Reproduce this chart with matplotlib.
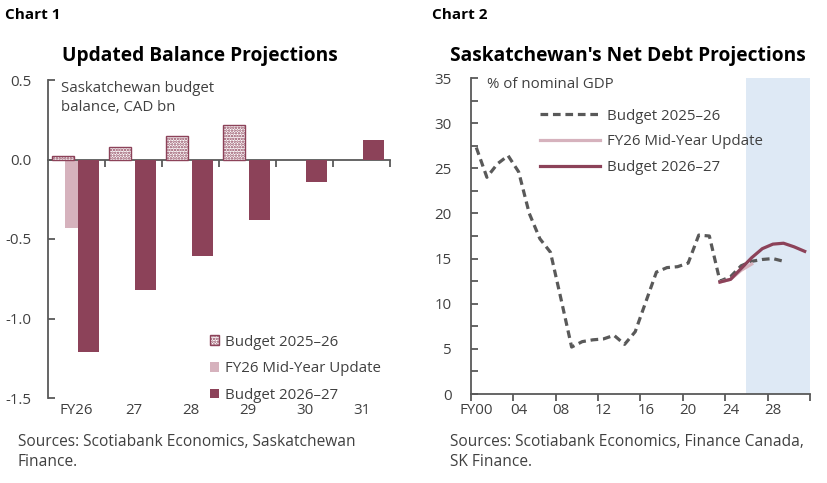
import matplotlib as mpl
mpl.use('Agg')
import matplotlib.pyplot as plt
import matplotlib.transforms as mtransforms
from matplotlib.lines import Line2D
from matplotlib.patches import Patch
import numpy as np

plt.rcParams['font.family'] = ['Open Sans', 'DejaVu Sans']
plt.rcParams['hatch.linewidth'] = 1.2

MAROON = '#8C4259'
PINK = '#D6B2BD'
GREY = '#595959'
SHADE = '#DEE9F5'
AXIS = '#595959'
TXT = '#404040'

# ---- Chart 1 data: budget balance, CAD bn
years1 = ['FY26', '27', '28', '29', '30', '31']
budget_2526 = [0.02, 0.08, 0.15, 0.22, np.nan, np.nan]
midyear_26 = [-0.43, np.nan, np.nan, np.nan, np.nan, np.nan]
budget_2627 = [-1.21, -0.82, -0.61, -0.38, -0.14, 0.12]

# ---- Chart 2 data: net debt, % of nominal GDP, FY00..FY31
years2 = list(range(2000, 2032))
debt_2526 = [27.3, 24.0, 25.5, 26.4, 24.6, 20.0, 17.2, 15.7, 10.5, 5.2,
             5.8, 6.0, 6.1, 6.5, 5.5, 6.9, 10.2, 13.5, 14.0, 14.1,
             14.5, 17.6, 17.5, 12.5, 13.0, 14.2, 14.7, 14.9, 15.0, 14.7,
             np.nan, np.nan]
debt_mid = [np.nan] * 23 + [12.4, 12.7, 13.7, 14.4] + [np.nan] * 5
debt_2627 = [np.nan] * 23 + [12.4, 12.7, 13.9, 15.1, 16.1, 16.6, 16.7, 16.3, 15.8]
xlabels2 = ['FY00', '04', '08', '12', '16', '20', '24', '28']
legend_labels = ['Budget 2025–26', 'FY26 Mid-Year Update', 'Budget 2026–27']

W, H = 828, 483
FS = 10.8
fig = plt.figure(figsize=(W / 100, H / 100), dpi=100)


def fx(px):
    return px / W


def fy(py):
    return 1 - py / H


# =================== Chart 1 ===================
ax1 = fig.add_axes([fx(48), fy(398), fx(390 - 48), (398 - 80) / H])
x = np.arange(len(years1))
ax1.bar(x, midyear_26, width=0.42, color=PINK, zorder=2)
ax1.bar(x - 0.235, budget_2526, width=0.38, facecolor='white',
        edgecolor=MAROON, hatch='......', linewidth=1.0, zorder=3)
ax1.bar(x + 0.205, budget_2627, width=0.37, color=MAROON, zorder=3)

ax1.set_xlim(-0.5, 5.5)
ax1.set_ylim(-1.5, 0.5)
ax1.set_yticks([0.5, 0.0, -0.5, -1.0, -1.5])
ax1.set_yticklabels(['0.5', '0.0', '-0.5', '-1.0', '-1.5'])
ax1.spines['bottom'].set_position(('data', 0))
for s in ['top', 'right']:
    ax1.spines[s].set_visible(False)
for s in ['left', 'bottom']:
    ax1.spines[s].set_color(AXIS)
    ax1.spines[s].set_linewidth(1.3)
ax1.set_xticks(np.arange(0.5, 6, 1))
ax1.set_xticklabels([])
ax1.tick_params(axis='x', direction='out', length=5, width=1.3, color=AXIS)
ax1.tick_params(axis='y', direction='in', length=5, width=1.3, color=AXIS,
                labelsize=FS, pad=12, labelcolor=TXT)
tr1 = mtransforms.blended_transform_factory(ax1.transData, fig.transFigure)
for xi, lab in zip(x, years1):
    ax1.text(xi, fy(411), lab, transform=tr1, ha='center', va='center',
             fontsize=FS, color=TXT)

ax1.text(fx(61), fy(98), 'Saskatchewan budget\nbalance, CAD bn',
         transform=fig.transFigure, ha='left', va='center', fontsize=FS,
         color=TXT, linespacing=1.3)

handles1 = [Patch(facecolor='white', edgecolor=MAROON, hatch='......', linewidth=1.0),
            Patch(facecolor=PINK), Patch(facecolor=MAROON)]
ax1.legend(handles1, legend_labels,
           loc='upper left', bbox_to_anchor=(fx(203), fy(327)),
           bbox_transform=fig.transFigure, frameon=False, fontsize=FS,
           handlelength=0.6, handleheight=0.6, handletextpad=0.4,
           labelspacing=0.78, borderpad=0, labelcolor=TXT)

# =================== Chart 2 ===================
ax2 = fig.add_axes([fx(471), fy(394), fx(810 - 471), (394 - 78) / H])
i2 = np.arange(len(years2))
ax2.axvspan(25.5, 31.5, color=SHADE, zorder=0, lw=0)
ax2.plot(i2, debt_2526, color=GREY, lw=2.3, dashes=(2.4, 1.5), zorder=2)
ax2.plot(i2, debt_mid, color=PINK, lw=2.3, zorder=3)
ax2.plot(i2, debt_2627, color=MAROON, lw=2.3, zorder=4)

ax2.set_xlim(-0.5, 31.5)
ax2.set_ylim(0, 35)
ax2.set_yticks(range(0, 36, 5))
ax2.set_yticks(np.arange(2.5, 35, 5), minor=True)
for s in ['top', 'right']:
    ax2.spines[s].set_visible(False)
for s in ['left', 'bottom']:
    ax2.spines[s].set_color(AXIS)
    ax2.spines[s].set_linewidth(1.3)
ax2.set_xticks(np.arange(-0.5, 32, 4))
ax2.set_xticklabels([])
ax2.tick_params(axis='x', direction='out', length=5, width=1.3, color=AXIS)
ax2.tick_params(axis='y', which='both', direction='in', length=5, width=1.3,
                color=AXIS, labelsize=FS, pad=14, labelcolor=TXT)
tr2 = mtransforms.blended_transform_factory(ax2.transData, fig.transFigure)
for k, lab in enumerate(xlabels2):
    ax2.text(k * 4, fy(411), lab, transform=tr2, ha='center', va='center',
             fontsize=FS, color=TXT)

ax2.text(fx(487), fy(85), '% of nominal GDP', transform=fig.transFigure,
         ha='left', va='center', fontsize=FS, color=TXT)

handles2 = [Line2D([], [], color=GREY, lw=2.3, dashes=(2.4, 1.5)),
            Line2D([], [], color=PINK, lw=2.3),
            Line2D([], [], color=MAROON, lw=2.3)]
ax2.legend(handles2, legend_labels,
           loc='upper left', bbox_to_anchor=(fx(533), fy(101)),
           bbox_transform=fig.transFigure, frameon=False, fontsize=FS,
           handlelength=4.0, handletextpad=0.45, labelspacing=0.72,
           borderpad=0, labelcolor=TXT)

# =================== Headings & sources ===================
fig.text(fx(5), fy(15), 'Chart 1', fontsize=11, fontweight='bold', va='center')
fig.text(fx(432), fy(15), 'Chart 2', fontsize=11, fontweight='bold', va='center')
fig.text(fx(200), fy(56), 'Updated Balance Projections', fontsize=13.8,
         fontweight='bold', ha='center', va='center')
fig.text(fx(628), fy(56), "Saskatchewan's Net Debt Projections", fontsize=13.8,
         fontweight='bold', ha='center', va='center')
fig.text(fx(18), fy(452), 'Sources: Scotiabank Economics, Saskatchewan\nFinance.',
         fontsize=11.2, va='center', ha='left', color=TXT, linespacing=1.35)
fig.text(fx(450), fy(452), 'Sources: Scotiabank Economics, Finance Canada,\nSK Finance.',
         fontsize=11.2, va='center', ha='left', color=TXT, linespacing=1.35)

fig.savefig('out.png', dpi=100)
